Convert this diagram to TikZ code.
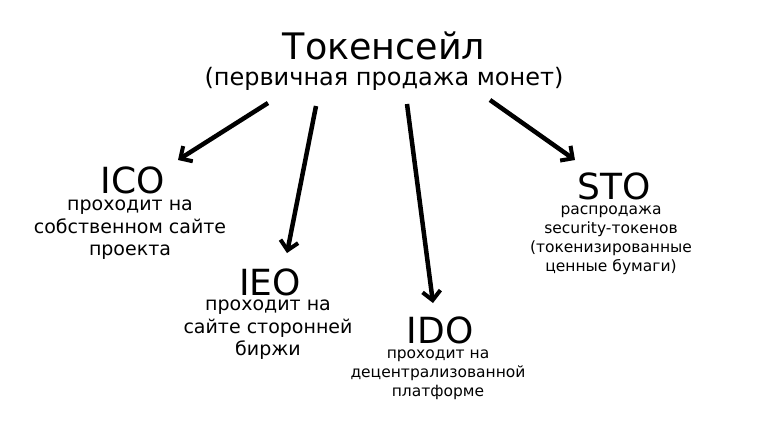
\documentclass[tikz,border=0pt]{standalone}
\usepackage{fontspec}
\setmainfont{DejaVu Sans}
\usetikzlibrary{arrows.meta}
\begin{document}
\begin{tikzpicture}[x=1pt,y=-1pt,
  arr/.style={line width=4.5pt,-{Straight Barb[length=9pt,width=18pt,line width=4pt]}},
  ttl/.style={font=\fontsize{36}{36}\selectfont,inner sep=0pt},
  sub/.style={font=\fontsize{19}{22.5}\selectfont,align=center,inner sep=0pt},
  sm/.style={font=\fontsize{15.5}{19}\selectfont,align=center,inner sep=0pt}]
\useasboundingbox[fill=white] (0,0) rectangle (768,432);
\node (t) at (384,46) {\fontsize{36.5}{36.5}\selectfont Токенсейл};
\node (ts) at (384,79) {\fontsize{24}{24}\selectfont (первичная продажа монет)};
\node[ttl] (ico) at (133,180) {ICO};
\node[sub,anchor=north] (icot) at (130,200) {проходит на\\собственном сайте\\проекта};
\node[ttl] (ieo) at (270,282) {IEO};
\node[sub,anchor=north] (ieot) at (268,300) {проходит на\\сайте сторонней\\биржи};
\node[ttl] (ido) at (440,330) {IDO};
\node[sm,anchor=north] (idot) at (438,350) {проходит на\\децентрализованной\\платформе};
\node[ttl] (sto) at (614,186) {STO};
\node[sm,anchor=north] (stot) at (611,206) {распродажа\\security-токенов\\(токенизированные\\ценные бумаги)};
\coordinate (a1) at (268,103); \coordinate (b1) at (178,160);
\coordinate (a2) at (316,106); \coordinate (b2) at (287,253);
\coordinate (a3) at (407,104); \coordinate (b3) at (433,303);
\coordinate (a4) at (490,100); \coordinate (b4) at (575,160);
\draw[arr] (a1) -- (b1);
\draw[arr] (a2) -- (b2);
\draw[arr] (a3) -- (b3);
\draw[arr] (a4) -- (b4);
\end{tikzpicture}
\end{document}
